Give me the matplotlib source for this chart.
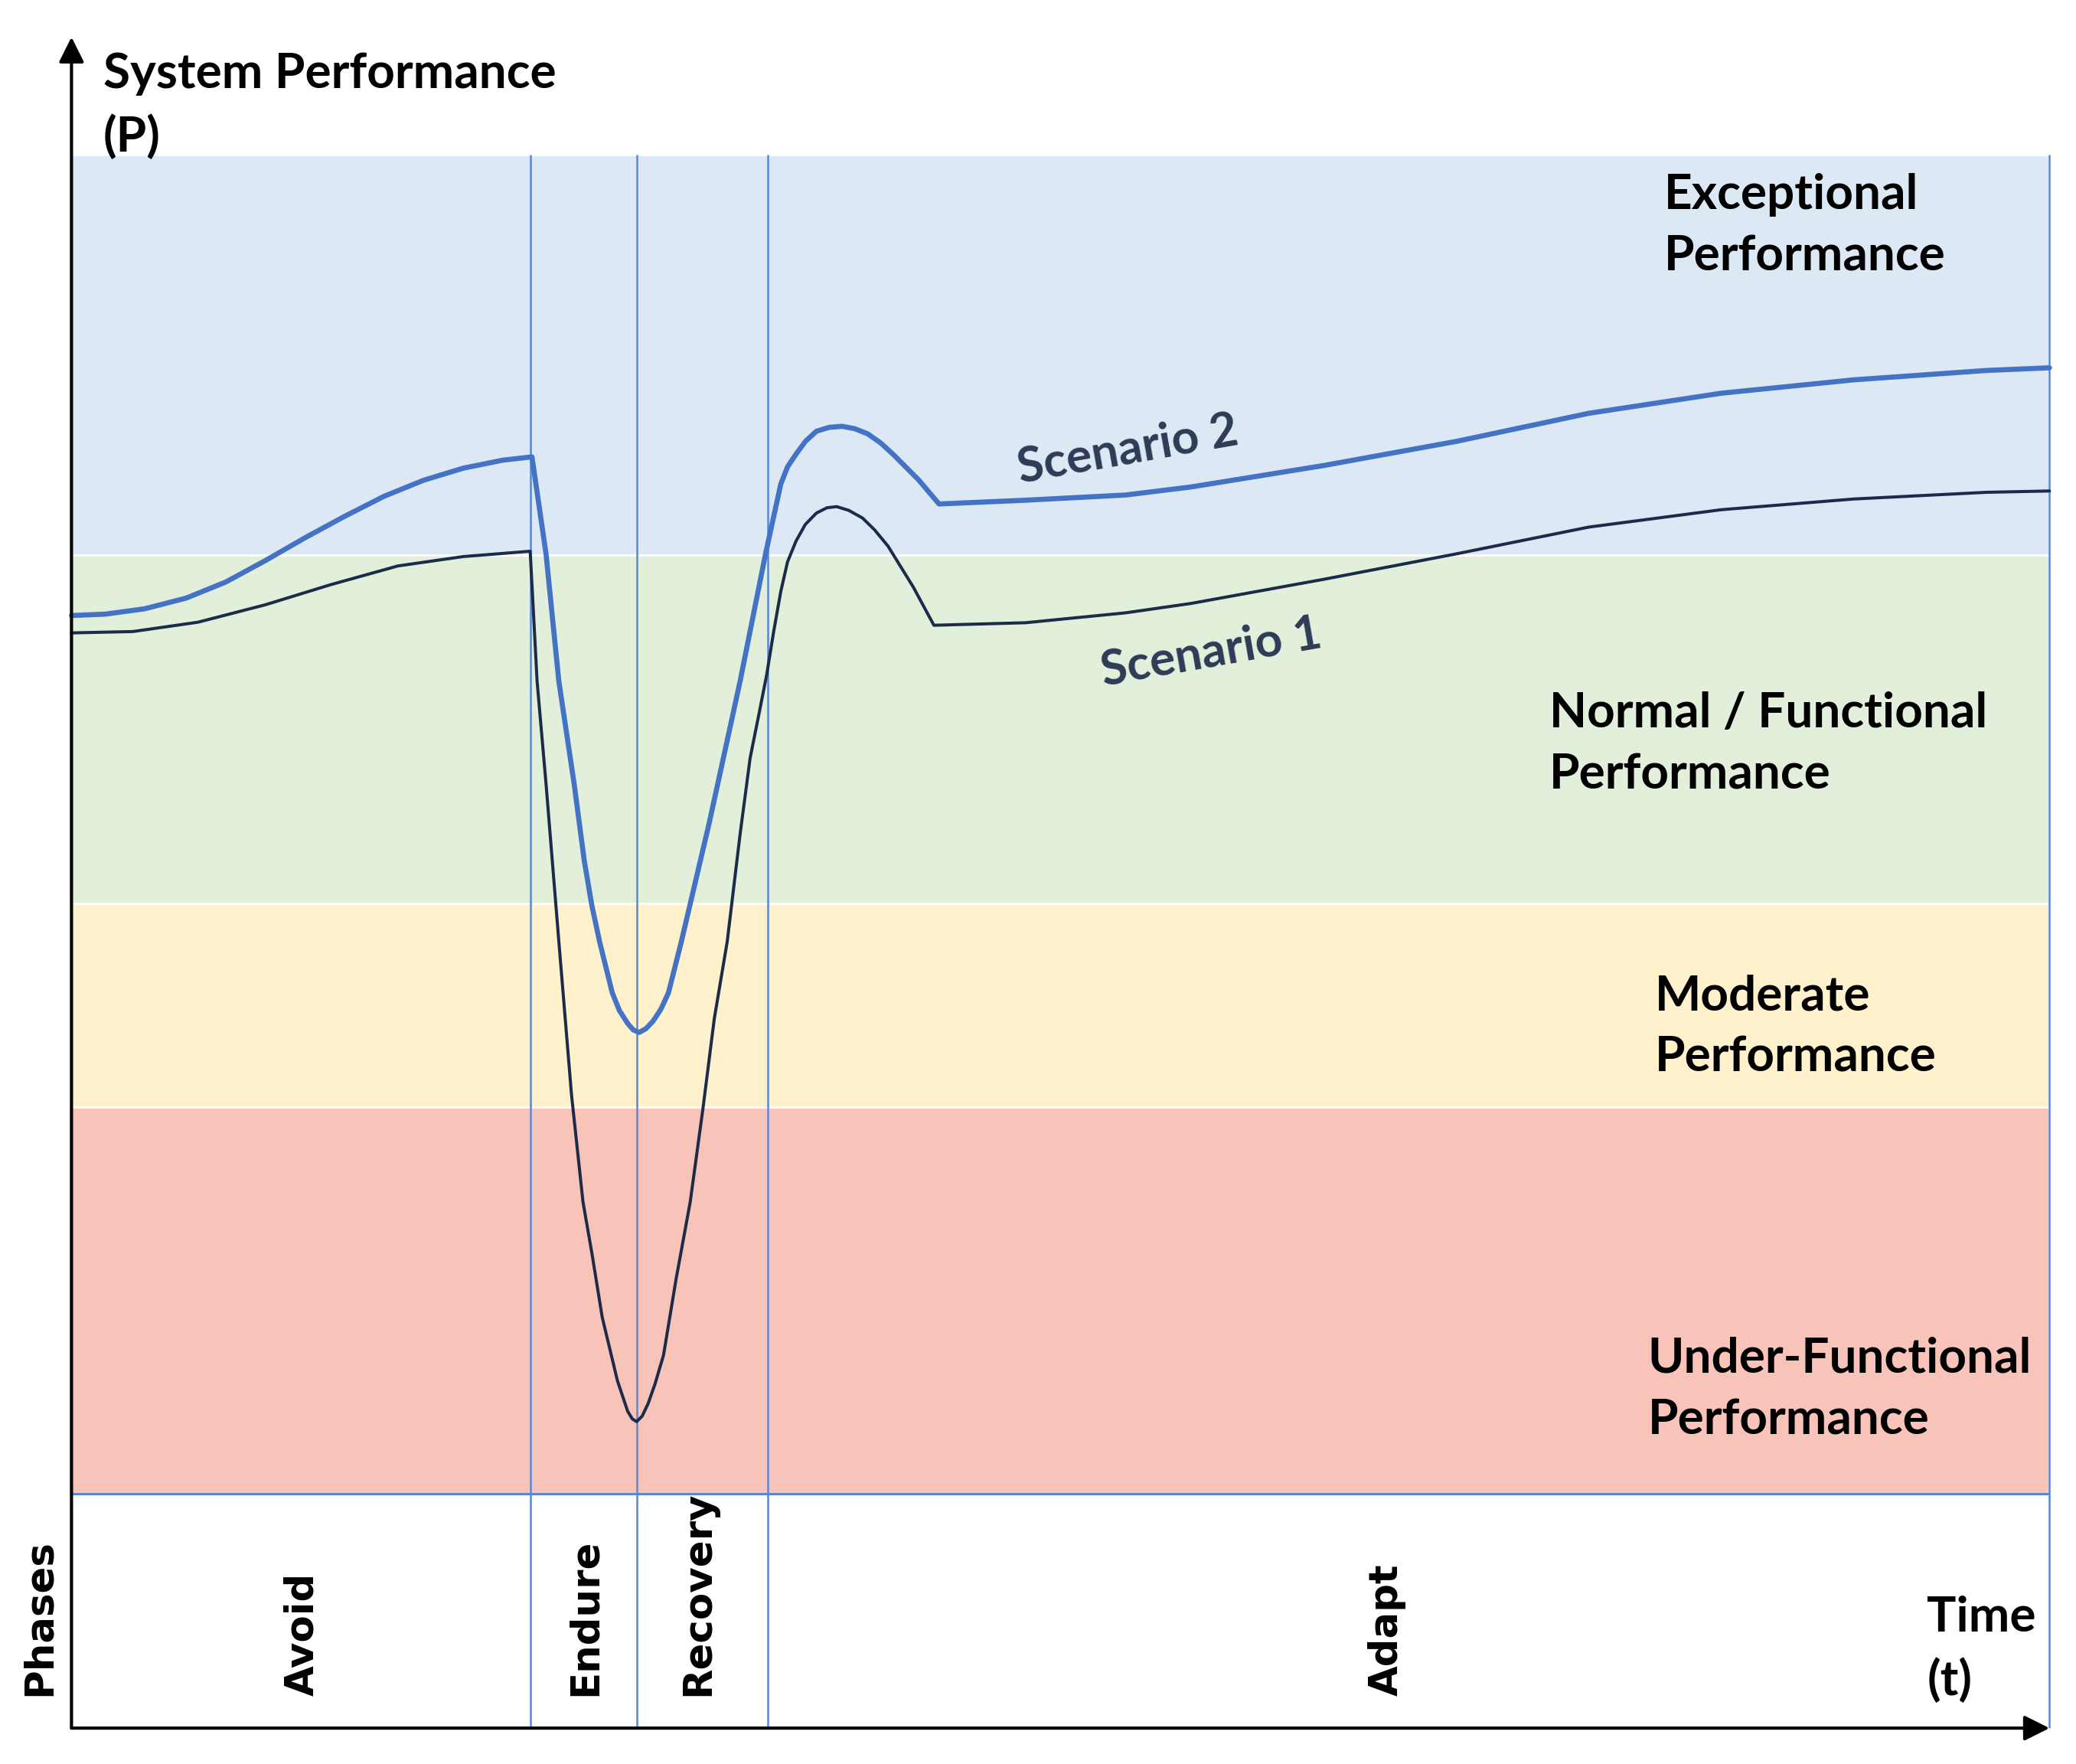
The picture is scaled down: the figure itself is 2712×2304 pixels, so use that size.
"""
System performance over a disruption: two scenarios drawn over
performance bands (exceptional / normal / moderate / under-functional)
and the four resilience phases along the time axis.

Output: out.png
"""

import matplotlib.pyplot as plt

# ---- data (time 0..100, performance 0..100) --------------------------------
band_names = ["Under-Functional\nPerformance", "Moderate\nPerformance",
              "Normal / Functional\nPerformance", "Exceptional\nPerformance"]
band_edges = [0, 28.9, 44.1, 70.1, 100]

phase_names = ["Avoid", "Endure", "Recovery", "Adapt"]
phase_edges = [0, 23.2, 28.6, 35.2, 100]

# scenario 2 (blue)
s2_t = [0, 1.7, 3.7, 5.8, 7.8, 9.8, 11.8, 13.8, 15.8, 17.8, 19.8, 21.8,
        23.28, 23.99, 24.64, 25.41, 25.92, 26.30, 26.70, 27.34, 27.70,
        28.12, 28.40, 28.70, 29.05, 29.41, 29.80, 30.18, 30.83, 32.25,
        33.80, 35.09, 35.86, 36.20, 36.63, 37.10, 37.66, 38.30, 38.96,
        39.60, 40.25, 40.90, 41.53, 42.82, 43.86, 48.24, 53.3, 56.6, 63.3,
        70.0, 76.7, 83.4, 90.1, 96.8, 100]
s2_p = [65.6, 65.7, 66.1, 66.9, 68.1, 69.7, 71.4, 73.0, 74.5, 75.7, 76.6,
        77.2, 77.45, 70.21, 60.67, 53.05, 47.33, 44.0, 41.23, 37.42, 36.1,
        35.13, 34.65, 34.46, 34.75, 35.32, 36.2, 37.42, 41.23, 50.16, 60.67,
        70.21, 75.42, 76.7, 77.65, 78.6, 79.36, 79.65, 79.73, 79.55, 79.17,
        78.5, 77.65, 75.74, 73.93, 74.21, 74.6, 75.2, 76.8, 78.6, 80.7, 82.2,
        83.2, 83.9, 84.1]

# scenario 1 (dark navy)
s1_t = [0, 3.1, 6.4, 9.8, 13.1, 16.5, 19.8, 23.19, 23.54, 23.99, 24.64,
        25.28, 25.86, 26.31, 26.83, 27.60, 28.12, 28.35, 28.57, 28.85,
        29.15, 29.50, 29.93, 30.57, 31.28, 31.93, 32.50, 33.15, 33.80,
        34.31, 34.75, 35.15, 35.50, 35.86, 36.20, 36.63, 37.10, 37.66,
        38.20, 38.69, 39.30, 39.99, 40.60, 41.28, 42.56, 43.60, 48.24, 53.3,
        56.6, 63.3, 70.0, 76.7, 83.4, 90.1, 96.8, 100]
s1_p = [64.3, 64.4, 65.1, 66.4, 67.9, 69.3, 70.0, 70.40, 60.67, 53.05,
        41.23, 29.79, 21.79, 17.97, 13.20, 8.45, 6.16, 5.6, 5.39, 5.8, 6.73,
        8.2, 10.35, 16.07, 21.79, 28.84, 35.51, 41.23, 49.24, 54.96, 58.2,
        61.2, 64.4, 67.4, 69.6, 71.16, 72.4, 73.25, 73.65, 73.73, 73.45,
        72.88, 72.0, 70.78, 67.72, 64.87, 65.06, 65.8, 66.5, 68.3, 70.2,
        72.2, 73.5, 74.3, 74.8, 74.9]

# ---- style -----------------------------------------------------------------
BAND_COLORS = ["#f8c4b9", "#fef1cb", "#e2efda", "#dde8f5"]
LINE_BLUE = "#5a87d6"
S2_COLOR = "#4472c4"
S1_COLOR = "#1c2b4a"
LABEL_FONT = ["Lato", "DejaVu Sans"]
PHASE_Y = -17.5

fig = plt.figure(figsize=(27.12, 23.04), dpi=100)
ax = fig.add_axes([0, 0, 1, 1])
ax.set_xlim(-3.614, 101.34)
ax.set_ylim(-20.18, 111.57)
ax.axis("off")

# performance bands
for lo, hi, col in zip(band_edges[:-1], band_edges[1:], BAND_COLORS):
    ax.fill_between([0, phase_edges[-1]], lo, hi, color=col,
                    edgecolor="white", lw=2, zorder=1)

# phase separators and frame of the phase row
ax.vlines(phase_edges[1:], PHASE_Y, band_edges[-1], color=LINE_BLUE,
          lw=1.8, zorder=2)
ax.hlines(band_edges[0], 0, phase_edges[-1], color=LINE_BLUE, lw=2.2, zorder=2)

# scenarios
ax.plot(s1_t, s1_p, color=S1_COLOR, lw=2.9, zorder=4,
        solid_joinstyle="round", solid_capstyle="round")
ax.plot(s2_t, s2_p, color=S2_COLOR, lw=4.8, zorder=3,
        solid_joinstyle="round", solid_capstyle="round")

# axes arrows
arrow = dict(arrowstyle="-|>,head_length=0.4,head_width=0.2", color="black",
             lw=3, mutation_scale=50, shrinkA=0, shrinkB=0)
ax.annotate("", xy=(0, 108.8), xytext=(0, PHASE_Y), arrowprops=arrow, zorder=5)
ax.annotate("", xy=(phase_edges[-1], PHASE_Y), xytext=(0, PHASE_Y),
            arrowprops=arrow, zorder=5)

# labels
ax.text(1.6, 103.7, "System Performance\n(P)", family=LABEL_FONT,
        fontweight="bold", fontsize=46, ha="left", va="center",
        linespacing=1.47)
ax.text(93.8, -11.6, "Time\n(t)", family=LABEL_FONT, fontweight="bold",
        fontsize=46, ha="left", va="center", linespacing=1.47)

band_label_x = [79.7, 80.05, 74.7, 80.5]
band_label_y = [7.8, 34.9, 56.0, 94.7]
for name, x, y in zip(band_names, band_label_x, band_label_y):
    ax.text(x, y, name, family=LABEL_FONT, fontweight="bold", fontsize=46,
            ha="left", va="center", linespacing=1.5, zorder=6)

ax.text(53.4, 78.0, "Scenario 2", family=LABEL_FONT, fontweight="bold",
        fontsize=45, color="#2e3b56", rotation=10, ha="center", va="center",
        rotation_mode="anchor", zorder=6)
ax.text(57.6, 62.8, "Scenario 1", family=LABEL_FONT, fontweight="bold",
        fontsize=45, color="#2e3b56", rotation=10, ha="center", va="center",
        rotation_mode="anchor", zorder=6)

# phase names
phase_x = [11.7, 26.0, 31.7, 66.5]
for name, x in zip(phase_names, phase_x):
    ax.text(x, -15.1, name, fontweight="bold", fontsize=37, rotation=90,
            ha="center", va="bottom", family="DejaVu Sans")
ax.text(-1.6, -15.1, "Phases", fontweight="bold", fontsize=37, rotation=90,
        ha="center", va="bottom", family="DejaVu Sans")

fig.savefig("out.png", dpi=100, facecolor="white")
